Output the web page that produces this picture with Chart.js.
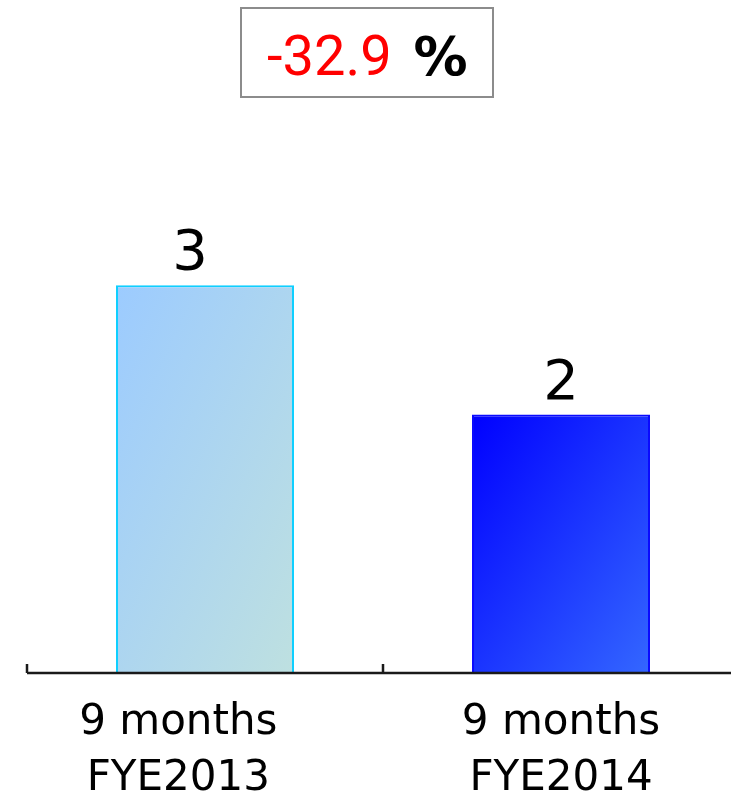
<!DOCTYPE html>
<html>
<head>
<meta charset="utf-8">
<script src="https://cdn.jsdelivr.net/npm/chart.js@4.4.1/dist/chart.umd.min.js"></script>
<style>
  html, body { margin: 0; padding: 0; background: #fff; overflow: hidden; }
  #wrap { position: relative; width: 739px; height: 799px; }
</style>
</head>
<body>
<div id="wrap"><canvas id="chart"></canvas></div>
<script>
// period labels (two lines each) and values shown above the bars
const categories = [['9 months', 'FYE2013'], ['9 months', 'FYE2014']];
const values = [3, 2];
const changePct = '-32.9';

// gradient colours per bar: [top-left, bottom-right]
const fillStops = [['#9ccbff', '#bee0e0'], ['#0000ff', '#3467ff']];
const borderColors = ['#0fcfff', '#0a0aff'];

const BAR_SHARE = 0.5;

// gradient runs corner to corner, stretched to the bar's box
function barFill(ctx) {
  const chart = ctx.chart;
  const { x, y } = chart.scales;
  const i = ctx.dataIndex;
  if (!chart.chartArea || !x || !y || i === undefined) return fillStops[i || 0][0];
  const w = (x.width / categories.length) * BAR_SHARE;
  const left = x.getPixelForValue(i) - w / 2;
  const top = y.getPixelForValue(values[i]);
  const h = y.getPixelForValue(0) - top;
  const t = 2 * w * h / (w * w + h * h);
  const g = chart.ctx.createLinearGradient(left, top, left + t * h, top + t * w);
  g.addColorStop(0, fillStops[i][0]);
  g.addColorStop(1, fillStops[i][1]);
  return g;
}

// numbers over each bar
const valueLabels = {
  id: 'valueLabels',
  afterDatasetsDraw(chart, args, opts) {
    const c = chart.ctx;
    const meta = chart.getDatasetMeta(0);
    c.save();
    c.font = '56px "DejaVu Sans"';
    c.fillStyle = '#000';
    c.textAlign = 'center';
    c.textBaseline = 'alphabetic';
    meta.data.forEach((bar, i) => {
      c.fillText(String(values[i]), bar.x + (opts.nudge[i] || 0), bar.y - 16);
    });
    c.restore();
  }
};

// base line with small upward ticks between categories
const baseAxis = {
  id: 'baseAxis',
  afterDatasetsDraw(chart) {
    const c = chart.ctx;
    const x = chart.scales.x;
    const yb = chart.chartArea.bottom;
    c.save();
    c.strokeStyle = '#1a1a1a';
    c.lineWidth = 2.5;
    c.beginPath();
    c.moveTo(x.left, yb);
    c.lineTo(chart.width, yb);
    for (let i = 0; i <= categories.length; i++) {
      const px = Math.round(x.getPixelForValue(i - 0.5));
      c.moveTo(px, yb);
      c.lineTo(px, yb - 9);
    }
    c.stroke();
    c.restore();
  }
};

// boxed change figure at the top
const changeBox = {
  id: 'changeBox',
  afterDraw(chart) {
    const c = chart.ctx;
    c.save();
    c.strokeStyle = '#8c8c8c';
    c.lineWidth = 2;
    c.strokeRect(241, 8, 252, 89);
    c.textBaseline = 'alphabetic';
    c.textAlign = 'left';
    c.font = '56px Roboto';
    c.fillStyle = '#ff0000';
    c.fillText(changePct, 267, 75);
    const w = c.measureText(changePct + ' ').width;
    c.font = 'bold 54px "DejaVu Sans"';
    c.fillStyle = '#000';
    c.fillText('%', 267 + w + 8, 75);
    c.restore();
  }
};

new Chart(document.getElementById('chart'), {
  type: 'bar',
  data: {
    labels: categories,
    datasets: [{
      data: values,
      backgroundColor: barFill,
      borderColor: borderColors,
      borderWidth: 2,
      barPercentage: BAR_SHARE,
      categoryPercentage: 1
    }]
  },
  options: {
    responsive: true,
    maintainAspectRatio: false,
    animation: false,
    layout: { padding: { top: 156, left: 27, right: 0, bottom: 0 } },
    plugins: {
      legend: { display: false },
      tooltip: { enabled: false },
      valueLabels: { nudge: [-15, 0] }
    },
    scales: {
      x: {
        grid: { display: false, drawTicks: false },
        border: { display: false },
        afterFit(scale) { scale.height = 126; },
        ticks: {
          color: '#000',
          padding: 22,
          maxRotation: 0,
          font: { family: 'DejaVu Sans', size: 42, lineHeight: 1.34 },
          // first period's caption sits a little left of its bar
          callback: (v, i) => i === 0 ? categories[i].map(s => s + '    ') : categories[i]
        }
      },
      y: {
        display: false,
        min: 0,
        max: 4
      }
    }
  },
  plugins: [valueLabels, baseAxis, changeBox]
});
</script>
</body>
</html>
